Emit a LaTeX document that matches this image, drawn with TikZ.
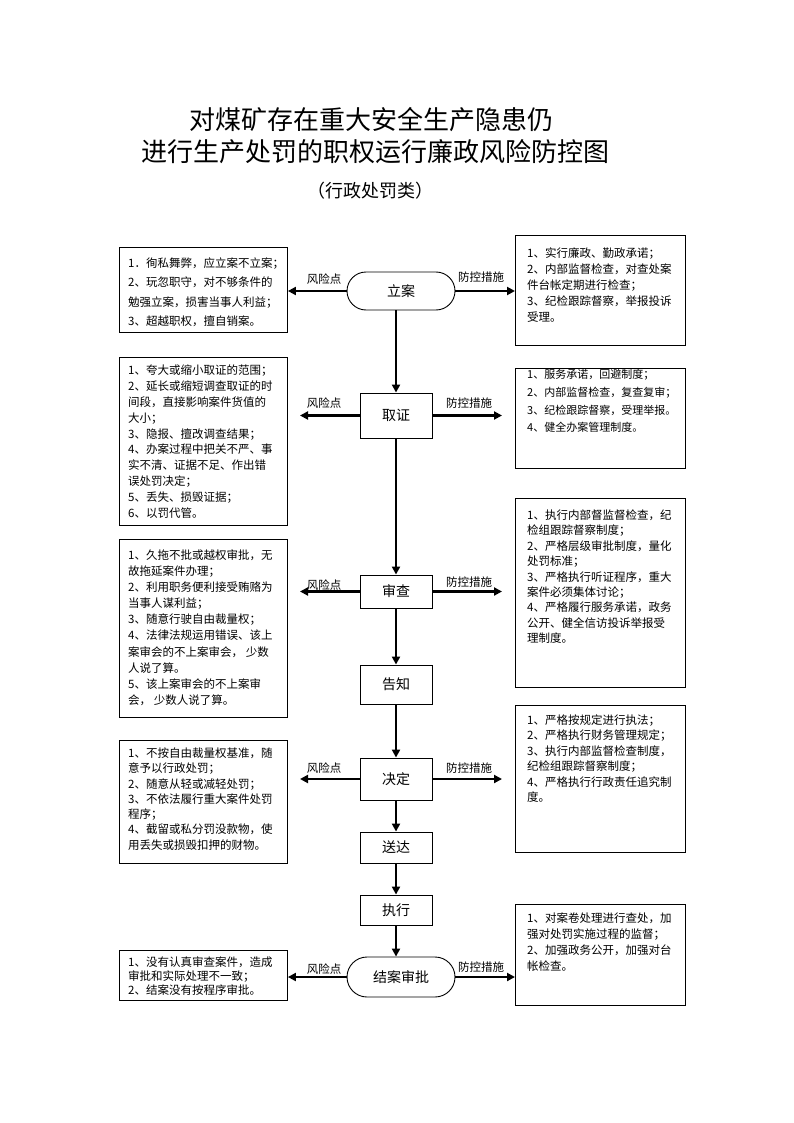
\documentclass[tikz,border=0pt]{standalone}
\usepackage{fontspec}
\setmainfont{Noto Sans CJK SC}
\usetikzlibrary{arrows.meta}
\begin{document}
\begin{tikzpicture}[x=1pt,y=-1pt,
  box/.style={draw, line width=0.9pt, inner sep=0, anchor=north west},
  proc/.style={draw, line width=0.9pt, minimum width=72pt, inner sep=0, font=\fontsize{14}{14}\selectfont},
  stad/.style={draw, line width=0.9pt, minimum width=108pt, rounded corners=19pt, inner sep=0, font=\fontsize{14}{14}\selectfont},
  arr/.style={line width=2.4pt, -{Triangle[length=8pt,width=8pt]}},
  lbl/.style={font=\fontsize{11.5}{11.5}\selectfont, inner sep=0},
  txt/.style={anchor=north west, inner sep=0, align=left}
]
\useasboundingbox[fill=white] (0,0) rectangle (794,1123);

% title
\node[inner sep=0, font=\fontsize{26}{26}\selectfont] (t1) at (371,120) {对煤矿存在重大安全生产隐患仍};
\node[inner sep=0, font=\fontsize{26}{26}\selectfont] (t2) at (375,152) {进行生产处罚的职权运行廉政风险防控图};
\node[inner sep=0, font=\fontsize{18}{18}\selectfont] (t3) at (370,191) {（行政处罚类）};

% main flow nodes
\node[stad, minimum height=38pt] (lian) at (401,291) {立案};
\node[proc, minimum height=45pt] (quzheng) at (396,415.5) {取证};
\node[proc, minimum height=33pt] (shencha) at (396,591.5) {审查};
\node[proc, minimum height=39pt] (gaozhi) at (396,684.5) {告知};
\node[proc, minimum height=42pt] (jueding) at (396,779) {决定};
\node[proc, minimum height=31pt] (songda) at (396,847.5) {送达};
\node[proc, minimum height=30pt] (zhixing) at (396,910) {执行};
\node[stad, minimum height=40pt, rounded corners=20pt] (jiean) at (401,977) {结案审批};

% left boxes
\node[box, minimum width=168pt, minimum height=85pt] (L1) at (119,247) {};
\node[box, minimum width=168pt, minimum height=168pt] (L2) at (119,357) {};
\node[box, minimum width=168pt, minimum height=178pt] (L3) at (119,539) {};
\node[box, minimum width=168pt, minimum height=123pt] (L4) at (119,740) {};
\node[box, minimum width=168pt, minimum height=50pt] (L5) at (119,950) {};

% right boxes
\node[box, minimum width=170pt, minimum height=110pt] (R1) at (515,235) {};
\node[box, minimum width=170pt, minimum height=100pt] (R2) at (515,368) {};
\node[box, minimum width=170pt, minimum height=189pt] (R3) at (515,498) {};
\node[box, minimum width=170pt, minimum height=147pt] (R4) at (515,705) {};
\node[box, minimum width=170pt, minimum height=101pt] (R5) at (515,904) {};

% box texts
\node[txt, font=\fontsize{11.5}{19.4}\selectfont] (L1t) at (128,257.5) {1．徇私舞弊，应立案不立案；\\2、玩忽职守，对不够条件的\\勉强立案，损害当事人利益；\\3、超越职权，擅自销案。};
\node[txt, font=\fontsize{11.5}{15.9}\selectfont] (L2t) at (128,364.5) {1、夸大或缩小取证的范围；\\2、延长或缩短调查取证的时\\间段，直接影响案件货值的\\大小；\\3、隐报、擅改调查结果；\\4、办案过程中把关不严、事\\实不清、证据不足、作出错\\误处罚决定；\\5、丢失、损毁证据；\\6、以罚代管。};
\node[txt, font=\fontsize{11.5}{16.1}\selectfont] (L3t) at (128,549.5) {1、久拖不批或越权审批，无\\故拖延案件办理；\\2、利用职务便利接受贿赂为\\当事人谋利益；\\3、随意行驶自由裁量权；\\4、法律法规运用错误、该上\\案审会的不上案审会， 少数\\人说了算。\\5、该上案审会的不上案审\\会， 少数人说了算。};
\node[txt, font=\fontsize{11.5}{15.3}\selectfont] (L4t) at (128,747.5) {1、不按自由裁量权基准，随\\意予以行政处罚；\\2、随意从轻或减轻处罚；\\3、不依法履行重大案件处罚\\程序；\\4、截留或私分罚没款物，使\\用丢失或损毁扣押的财物。};
\node[txt, font=\fontsize{11.5}{14}\selectfont] (L5t) at (128,956.5) {1、没有认真审查案件，造成\\审批和实际处理不一致；\\2、结案没有按程序审批。};

\node[txt, font=\fontsize{11.5}{16}\selectfont] (R1t) at (527,247.5) {1、实行廉政、勤政承诺；\\2、内部监督检查，对查处案\\件台帐定期进行检查；\\3、纪检跟踪督察，举报投诉\\受理。};
\node[txt, font=\fontsize{11}{17.6}\selectfont] (R2t) at (527,369.5) {1、服务承诺，回避制度；\\2、内部监督检查，复查复审；\\3、纪检跟踪督察，受理举报。\\4、健全办案管理制度。};
\node[txt, font=\fontsize{11.5}{15.4}\selectfont] (R3t) at (527,509.5) {1、执行内部督监督检查，纪\\检组跟踪督察制度；\\2、严格层级审批制度，量化\\处罚标准；\\3、严格执行听证程序，重大\\案件必须集体讨论；\\4、严格履行服务承诺，政务\\公开、健全信访投诉举报受\\理制度。};
\node[txt, font=\fontsize{11.5}{15.4}\selectfont] (R4t) at (527,714.5) {1、严格按规定进行执法；\\2、严格执行财务管理规定；\\3、执行内部监督检查制度，\\纪检组跟踪督察制度；\\4、严格执行行政责任追究制\\度。};
\node[txt, font=\fontsize{11.5}{16}\selectfont] (R5t) at (527,912.5) {1、对案卷处理进行查处，加\\强对处罚实施过程的监督；\\2、加强政务公开，加强对台\\帐检查。};

% vertical flow
\draw[arr] (lian.south -| quzheng.north) -- (quzheng.north);
\draw[arr] (quzheng.south) -- (shencha.north);
\draw[arr] (shencha.south) -- (gaozhi.north);
\draw[arr] (gaozhi.south) -- (jueding.north);
\draw[arr] (jueding.south) -- (songda.north);
\draw[arr] (songda.south) -- (zhixing.north);
\draw[arr] (zhixing.south) -- (zhixing.south |- jiean.north);

% free ends
\coordinate (qL) at (300,415.5);
\coordinate (qR) at (502,415.5);
\coordinate (sL) at (300,591.5);
\coordinate (sR) at (502,591.5);
\coordinate (jL) at (300,779);
\coordinate (jR) at (502,779);

% horizontal arrows
\draw[arr] (lian.west) -- (lian.west -| L1.east);
\draw[arr] (lian.east) -- (lian.east -| R1.west);
\draw[arr] (quzheng.west) -- (qL);
\draw[arr] (quzheng.east) -- (qR);
\draw[arr] (shencha.west) -- (sL);
\draw[arr] (shencha.east) -- (sR);
\draw[arr] (jueding.west) -- (jL);
\draw[arr] (jueding.east) -- (jR);
\draw[arr] (jiean.west) -- (jiean.west -| L5.east);
\draw[arr] (jiean.east) -- (jiean.east -| R5.west);

% arrow labels
\node[lbl] (fx1) at (324,279) {风险点};
\node[lbl] (fk1) at (481,277) {防控措施};
\node[lbl] (fx2) at (324,403) {风险点};
\node[lbl] (fk2) at (469,403) {防控措施};
\node[lbl] (fx3) at (324,585) {风险点};
\node[lbl] (fk3) at (469,582) {防控措施};
\node[lbl] (fx4) at (324,768) {风险点};
\node[lbl] (fk4) at (469,768) {防控措施};
\node[lbl] (fx5) at (324,969) {风险点};
\node[lbl] (fk5) at (481,967) {防控措施};
\end{tikzpicture}
\end{document}
